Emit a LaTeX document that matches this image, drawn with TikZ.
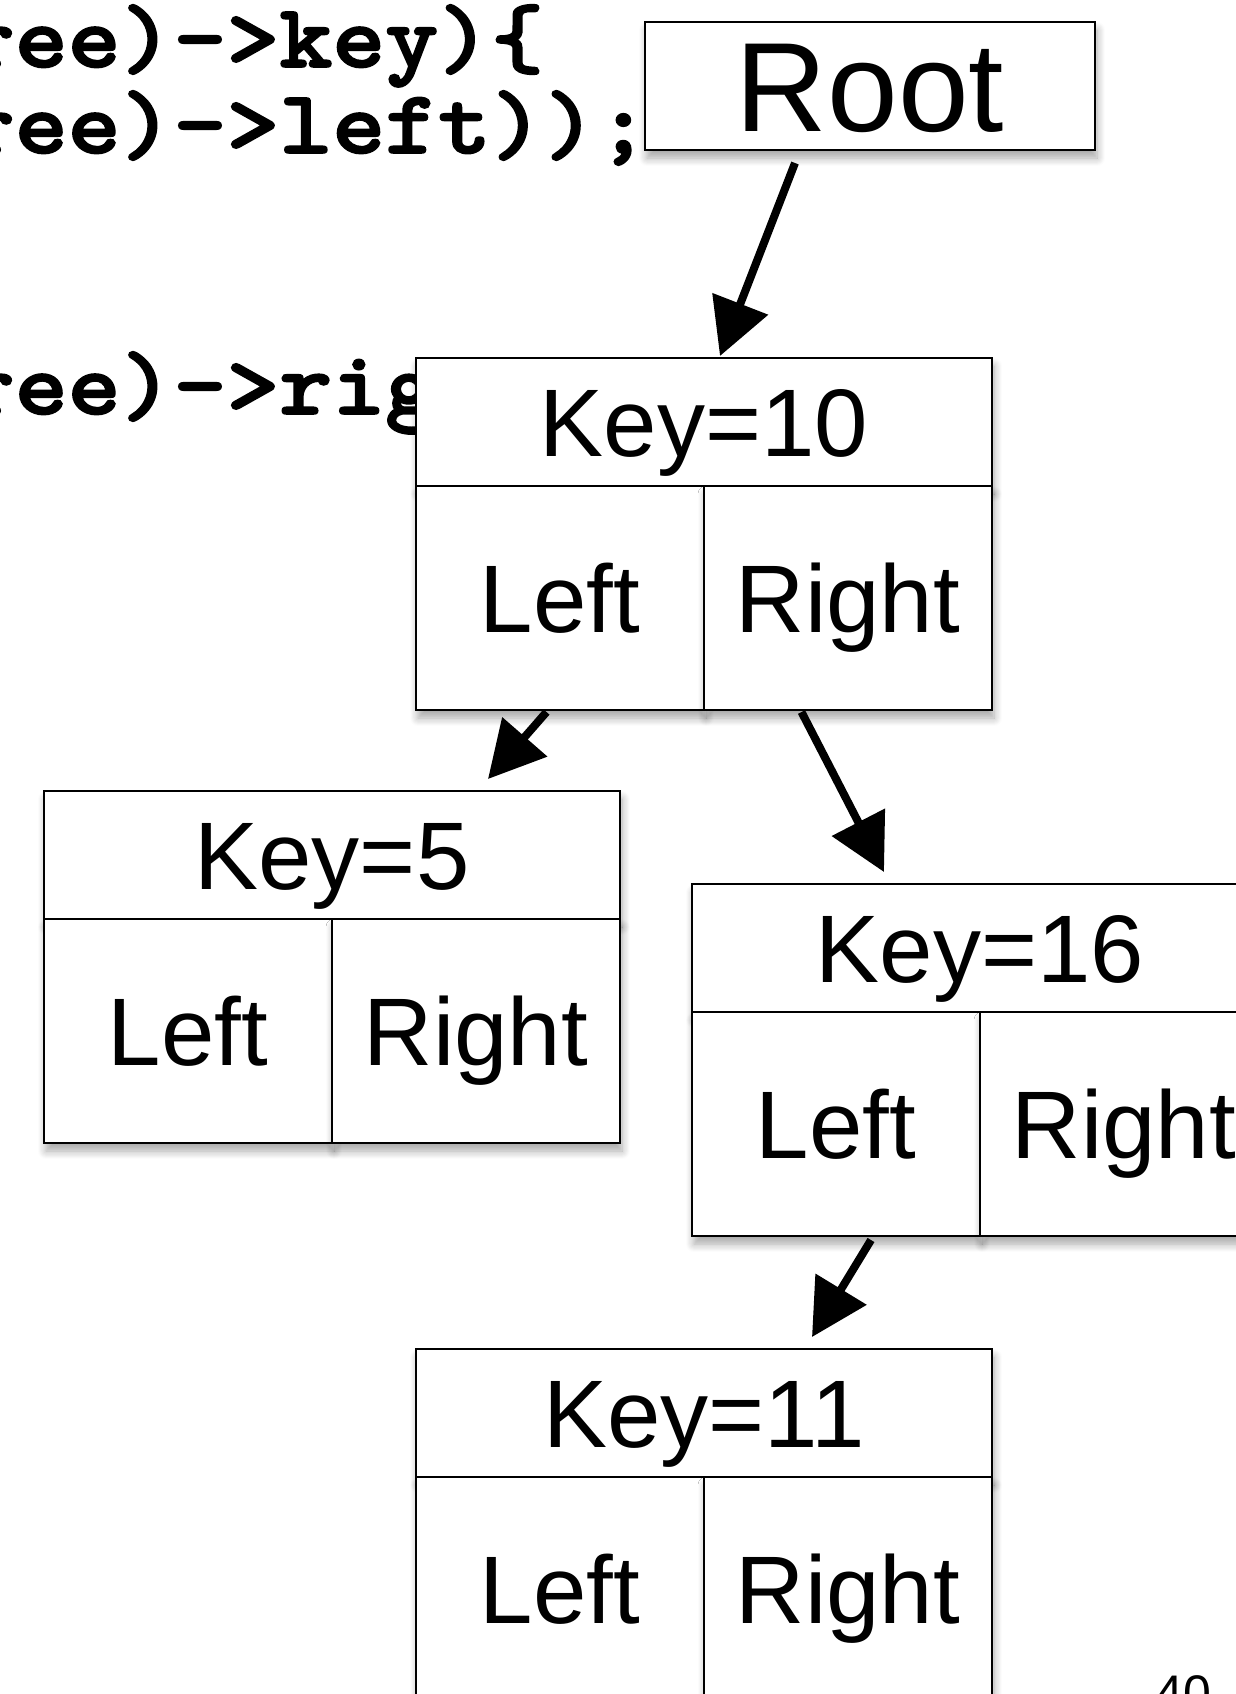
\documentclass[tikz,border=0pt]{standalone}
\usepackage{fontspec}
\setmainfont{Liberation Sans}
\newfontfamily\codefont{lmmonolt10-bold.otf}[FakeBold=2, FakeStretch=1.12]
\usetikzlibrary{arrows.meta,calc,shadows.blur}

\begin{document}
\begin{tikzpicture}[x=0.5pt,y=-0.5pt,
  box/.style={draw=black, line width=1.3pt, fill=white, inner sep=0pt, outer sep=0pt,
    blur shadow={shadow xshift=1pt, shadow yshift=-4pt, shadow blur steps=8, shadow blur radius=4pt, shadow opacity=35}},
  keytext/.style={font=\fontsize{48}{56}\selectfont, text height=34.4pt, text depth=0pt},
  header/.style={box, keytext, minimum width=288pt, minimum height=64pt, anchor=north west},
  cell/.style={box, keytext, minimum width=144pt, minimum height=112pt, anchor=north west},
  rootbox/.style={box, font=\fontsize{63.5}{72}\selectfont, text height=45.5pt, text depth=0pt,
    minimum width=225pt, minimum height=64pt, anchor=north west},
  code/.style={font=\codefont\fontsize{45}{50}\selectfont, inner sep=0pt, anchor=base west},
  conn/.style={-{Triangle[length=28pt,width=29pt]}, line width=4pt}
]
\useasboundingbox (0,0) rectangle (1236,1694);
\clip (0,0) rectangle (1236,1694);

% code fragments
\node[code] (c1) at (-38.5,67) {ree)->key)\{};
\node[code] (c2) at (-38.5,153) {ree)->left));};
\node[code] (c3) at (-38.5,414) {ree)->rig};

% root
\node[rootbox] (root) at (645,22) {Root};

% Key=10
\node[header] (k10) at (416,358) {Key=10};
\node[cell] (k10l) at (k10.south west) {Left};
\node[cell] (k10r) at (k10l.north east) {Right};

% Key=5
\node[header] (k5) at (44,791) {Key=5};
\node[cell] (k5l) at (k5.south west) {Left};
\node[cell] (k5r) at (k5l.north east) {Right};

% Key=16
\node[header] (k16) at (692,884) {Key=16};
\node[cell] (k16l) at (k16.south west) {Left};
\node[cell] (k16r) at (k16l.north east) {Right};

% Key=11
\node[header] (k11) at (416,1349) {Key=11};
\node[cell] (k11l) at (k11.south west) {Left};
\node[cell] (k11r) at (k11l.north east) {Right};

% connectors
\draw[conn] ($(root.south)+(-75,13)$) -- ($(k10.north)+(16,-2)$);
\draw[conn] ($(k10l.south)+(-13.5,2)$) -- ($(k5.north)+(156,-12)$);
\draw[conn] ($(k10r.south)+(-46.5,2)$) -- ($(k16.north)+(-96,-12)$);
\draw[conn] ($(k16l.south)+(35,4)$) -- ($(k11.north)+(108,-12)$);

% page number
\node[font=\fontsize{25}{30}\selectfont, inner sep=0pt, anchor=base east] (pagenum) at (1212,1710) {40};
\end{tikzpicture}
\end{document}
